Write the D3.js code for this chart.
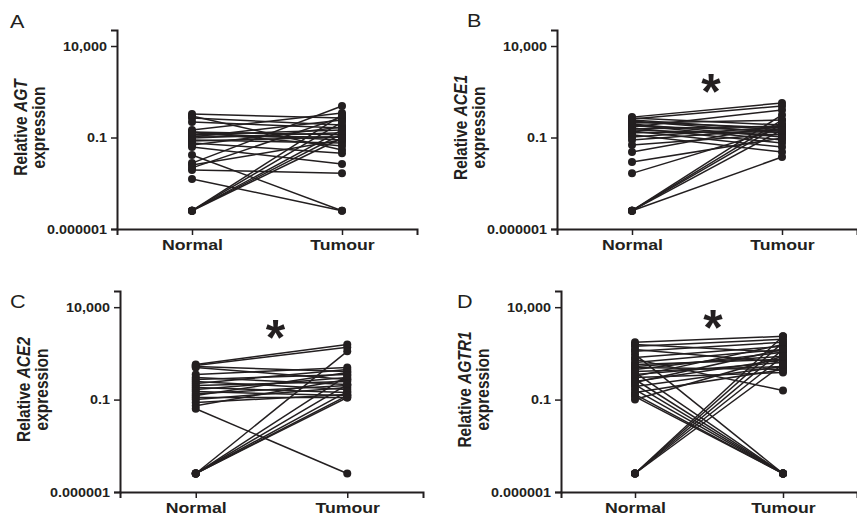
<!DOCTYPE html>
<html><head><meta charset="utf-8">
<script src="https://cdn.jsdelivr.net/npm/d3@7"></script>
<style>body{margin:0;background:#fff} svg{display:block}</style>
</head><body><svg id="chart" width="857" height="520"></svg>
<script>
// ---------- data ----------
const groups = ["Normal", "Tumour"];
const yTickValues = [0.000001, 0.1, 10000];
const yTickLabels = ["0.000001", "0.1", "10,000"];
const panelLetters = ["A", "B", "C", "D"];
const genes = ["AGT", "ACE1", "ACE2", "AGTR1"];
const significant = [false, true, true, true];

const agtNormal = [1.9, 1.5, 1.16, 0.7, 0.26, 0.2, 0.18, 0.14, 0.12, 0.106, 0.094, 0.073, 0.064, 0.05, 0.039, 0.03, 0.011, 0.004, 0.0031, 0.0022, 0.0017, 0.00054, 0.00001, 0.00001, 0.00001, 0.00001, 0.00001, 0.2];
const agtTumour = [1.16, 0.021, 0.48, 0.33, 2.2, 0.14, 0.073, 0.26, 0.106, 0.9, 0.18, 0.05, 0.106, 0.014, 0.37, 0.0036, 0.00001, 5.3, 0.073, 1.3, 0.0011, 0.00001, 1.7, 0.7, 0.26, 0.155, 0.094, 0.034];

const ace1Normal = [1.3, 1.16, 1.03, 0.9, 0.8, 0.7, 0.62, 0.55, 0.48, 0.42, 0.37, 0.33, 0.29, 0.26, 0.23, 0.18, 0.14, 0.106, 0.073, 0.039, 0.016, 0.0046, 0.0011, 0.00001, 0.00001, 0.00001, 0.00001, 0.00001];
const ace1Tumour = [7.7, 0.48, 5.3, 0.26, 0.18, 0.33, 0.9, 0.106, 0.073, 0.23, 3.2, 0.05, 0.42, 0.14, 0.03, 0.2, 0.016, 0.37, 0.29, 0.155, 0.48, 0.094, 0.33, 1.7, 0.9, 0.55, 0.26, 0.0086];

const ace2Normal = [8.0, 7.0, 6.2, 5.5, 2.3, 1.57, 1.22, 0.95, 0.74, 0.58, 0.45, 0.35, 0.27, 0.21, 0.165, 0.13, 0.1, 0.069, 0.047, 0.032, 0.00001, 0.00001, 0.00001, 0.00001, 0.00001, 0.00001];
const ace2Tumour = [97, 67, 3.3, 1.22, 5.5, 0.65, 2.3, 0.35, 4.3, 0.95, 0.24, 1.57, 0.165, 0.58, 2.9, 0.13, 0.45, 0.19, 1.22, 0.00001, 41, 0.65, 0.27, 0.165, 0.13, 2.0];

const agtr1Normal = [125, 97, 76, 52, 41, 28, 19, 15, 10.3, 8.0, 6.2, 5.5, 4.3, 3.3, 2.9, 2.3, 1.8, 1.57, 1.22, 0.95, 0.84, 0.65, 0.51, 0.35, 0.24, 0.19, 0.146, 0.1, 0.00001, 0.00001, 0.00001, 0.00001, 0.00001];
const agtr1Tumour = [265, 36, 182, 10.3, 125, 0.00001, 76, 0.31, 52, 15, 22, 4.3, 36, 6.2, 0.00001, 10.3, 97, 2.9, 0.00001, 15, 52, 0.00001, 6.2, 0.00001, 4.3, 0.00001, 0.00001, 22, 265, 125, 52, 22, 8.0];

const starLevels = [null, 120, 800, 2800];

const normals = [agtNormal, ace1Normal, ace2Normal, agtr1Normal];
const tumours = [agtTumour, ace1Tumour, ace2Tumour, agtr1Tumour];

// ---------- layout ----------
const layout = [
  {axisX: 117, xEnd: 417, top: 30, bottom: 229, lx: 10, ly: 28},
  {axisX: 557, xEnd: 857, top: 30, bottom: 229, lx: 467, ly: 27},
  {axisX: 120, xEnd: 423, top: 291, bottom: 492, lx: 10, ly: 308},
  {axisX: 561, xEnd: 857, top: 291, bottom: 492, lx: 457, ly: 308}
];
const ink = "#231f20";
const font = "'Liberation Sans', Arial, Helvetica, sans-serif";
const sx = 1.18; // horizontal stretch of the original figure's lettering

const svg = d3.select("#chart").style("font-family", font);

layout.forEach((L, i) => {
  const g = svg.append("g");
  const y = d3.scaleLog().domain([0.000001, 75000]).range([L.bottom, L.top]);
  const x = d3.scalePoint().domain(groups).range([L.axisX, L.xEnd]).padding(0.5);

  // y axis
  const yAxis = d3.axisLeft(y).tickValues(yTickValues)
    .tickFormat((d, k) => yTickLabels[k]).tickSizeOuter(0).tickSize(6);
  const ya = g.append("g").attr("transform", `translate(${L.axisX},0)`).call(yAxis);
  ya.select(".domain").attr("stroke", ink).attr("stroke-width", 2);
  ya.selectAll(".tick line").attr("stroke", ink).attr("stroke-width", 1.5);
  ya.selectAll(".tick text").attr("fill", ink).style("font-size", "12.5px")
    .style("font-weight", "bold").style("font-family", font)
    .attr("x", -10 / 1.15).attr("transform", "scale(1.15,1)");

  // x axis
  const xAxis = d3.axisBottom(x).tickSizeOuter(0).tickSize(6);
  const xa = g.append("g").attr("transform", `translate(0,${L.bottom})`).call(xAxis);
  xa.select(".domain").attr("stroke", ink).attr("stroke-width", 2);
  xa.selectAll(".tick line").attr("stroke", ink).attr("stroke-width", 1.5);
  xa.selectAll(".tick text").attr("fill", ink).style("font-size", "15px")
    .style("font-weight", "bold").style("font-family", font)
    .attr("y", 21).attr("dy", 0).attr("transform", `scale(${sx},1)`);

  // data
  const pairs = normals[i].map((n, k) => [n, tumours[i][k]]);
  const line = d3.line().x((d, k) => x(groups[k])).y(d => y(d));
  g.append("g").selectAll("path").data(pairs).join("path")
    .attr("d", line).attr("fill", "none").attr("stroke", ink).attr("stroke-width", 1.5);
  const pts = [];
  pairs.forEach(p => { pts.push({g: groups[0], v: p[0]}); pts.push({g: groups[1], v: p[1]}); });
  g.append("g").selectAll("circle").data(pts).join("circle")
    .attr("cx", d => x(d.g)).attr("cy", d => y(d.v)).attr("r", 4).attr("fill", ink);

  // y title
  const mid = (L.top + L.bottom) / 2 - 2;
  const t = g.append("text")
    .attr("transform", `translate(${L.axisX - 90},${mid}) scale(${sx},1) rotate(-90)`)
    .attr("text-anchor", "middle").attr("fill", ink)
    .style("font-size", "15.5px").style("font-weight", "bold");
  t.append("tspan").text("Relative ");
  t.append("tspan").style("font-style", "italic").text(genes[i]);
  g.append("text")
    .attr("transform", `translate(${L.axisX - 72},${mid}) scale(${sx},1) rotate(-90)`)
    .attr("text-anchor", "middle").attr("fill", ink)
    .style("font-size", "15.5px").style("font-weight", "bold").text("expression");

  // panel letter
  g.append("text").attr("transform", `translate(${L.lx},${L.ly}) scale(1.2,1)`).attr("fill", ink)
    .style("font-size", "18px").text(panelLetters[i]);

  // significance star
  if (significant[i]) {
    g.append("text").attr("x", (x(groups[0]) + x(groups[1])) / 2 + 4)
      .attr("y", y(starLevels[i]) + 28).attr("text-anchor", "middle").attr("fill", ink)
      .style("font-size", "50px").style("font-weight", "bold").text("*");
  }
});
</script></body></html>
